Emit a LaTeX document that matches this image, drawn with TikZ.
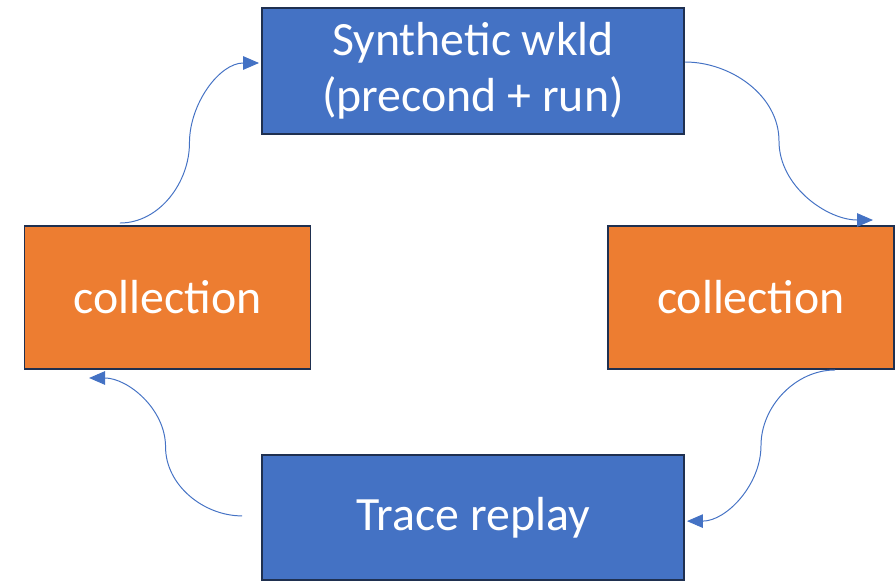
\documentclass[tikz,border=0pt]{standalone}
\usepackage{fontspec}
\setmainfont{Carlito}
\usepackage{xcolor}
\usetikzlibrary{arrows.meta, positioning, calc}

\definecolor{azul}{HTML}{4472C4}
\definecolor{laranja}{HTML}{ED7D31}
\definecolor{borda}{HTML}{1F3050}

\begin{document}
\begin{tikzpicture}[
    >={Triangle[length=0.4cm, width=0.34cm]},
    bloco/.style={
        rectangle,
        draw=borda,
        line width=1.4pt,
        align=center,
        text=white,
        font=\fontsize{34}{40}\selectfont
    },
    azulbloco/.style={bloco, fill=azul, minimum width=10.55cm, minimum height=3.15cm},
    laranjabloco/.style={bloco, fill=laranja, minimum width=7.15cm, minimum height=3.575cm},
    seta/.style={->, draw=azul, line width=0.7pt}
]

\useasboundingbox (0,0) rectangle (22.375,-14.55);

\node[azulbloco] (sintetico) at (11.825,-1.775) {Synthetic wkld\\(precond + run)};
\node[laranjabloco] (coleta1) at (4.1875,-7.4375) {collection};
\node[laranjabloco] (coleta2) at (18.775,-7.4375) {collection};
\node[azulbloco, minimum height=3.125cm] (replay) at (11.825,-12.9375) {Trace replay};

% pontas das setas
\coordinate (a1) at ([xshift=-1.19cm, yshift=0.05cm]coleta1.north);
\coordinate (b1) at ([xshift=-0.05cm, yshift=0.2cm]sintetico.west);
\coordinate (a2) at ([yshift=0.225cm]sintetico.east);
\coordinate (b2) at ([xshift=3.05cm, yshift=0.125cm]coleta2.north);
\coordinate (a3) at ([xshift=2.1cm]coleta2.south);
\coordinate (b3) at ([xshift=0.05cm, yshift=-0.09cm]replay.east);
\coordinate (a4) at ([xshift=-0.475cm, yshift=0.04cm]replay.west);
\coordinate (b4) at ([xshift=-1.96cm, yshift=-0.2cm]coleta1.south);

\draw[seta] (a1) to[out=0, in=-90, looseness=0.95] ($(a1)!0.5!(b1)$)
    to[out=90, in=180, looseness=0.95] (b1);
\draw[seta] (a2) to[out=0, in=90, looseness=0.95] ($(a2)!0.5!(b2)$)
    to[out=-90, in=180, looseness=0.95] (b2);
\draw[seta] (a3) to[out=180, in=90, looseness=0.95] ($(a3)!0.5!(b3)$)
    to[out=-90, in=0, looseness=0.95] (b3);
\draw[seta] (a4) to[out=180, in=-90, looseness=0.95] ($(a4)!0.5!(b4)$)
    to[out=90, in=0, looseness=0.95] (b4);

\end{tikzpicture}
\end{document}
